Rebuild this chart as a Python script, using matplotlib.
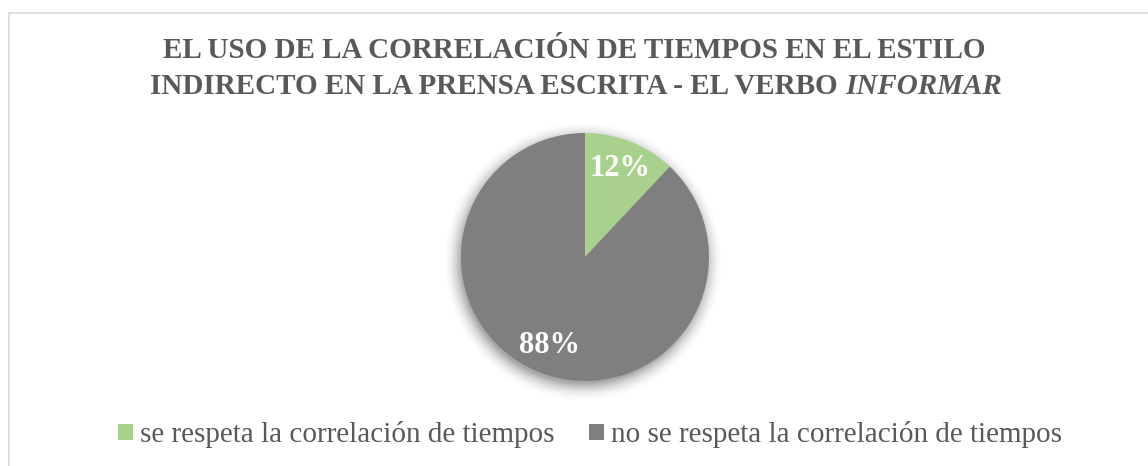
import matplotlib
matplotlib.use("Agg")
import numpy as np
import matplotlib.pyplot as plt
from matplotlib.patches import Patch, Rectangle

labels = ["se respeta la correlación de tiempos", "no se respeta la correlación de tiempos"]
values = [12, 88]
colors = ["#a9d18e", "#7f7f7f"]
title_1 = "EL USO DE LA CORRELACIÓN DE TIEMPOS EN EL ESTILO"
title_2a = "INDIRECTO EN LA PRENSA ESCRITA - EL VERBO "
title_2b = "INFORMAR"

plt.rcParams["font.family"] = ["Liberation Serif", "DejaVu Serif"]

W, H = 1148, 466
fig = plt.figure(figsize=(W / 100, H / 100), dpi=100)
fig.patches.append(Rectangle((9 / W, -0.1), 1.2, (H - 13) / H + 0.1, transform=fig.transFigure,
                             fill=False, edgecolor="#d9d9d9", linewidth=1.2))

# pie
cx, cy, r = 585, 257, 124
m = 1.3
ax = fig.add_axes([(cx - m * r) / W, (H - cy - m * r) / H, 2 * m * r / W, 2 * m * r / H])

# soft shadow behind the pie
g = np.linspace(-m, m, 300)
gx, gy = np.meshgrid(g, g)
d = np.hypot(gx + 0.02, gy + 0.04)
a = np.clip((1.14 - d) / 0.16, 0, 1) ** 2 * 0.35
shade = np.zeros((300, 300, 4))
shade[..., 3] = a
ax.imshow(shade, extent=(-m, m, -m, m), origin="lower", zorder=0)

wedges, texts, autotexts = ax.pie(values, colors=colors, startangle=90, counterclock=False,
                                  autopct="%1.0f%%", pctdistance=0.77,
                                  textprops=dict(color="white", fontsize=22, fontweight="bold"))
for w in wedges:
    w.set_zorder(2)
for t in autotexts:
    t.set_zorder(3)
ax.set_xlim(-m, m)
ax.set_ylim(-m, m)
ax.axis("off")

# title
tc = "#595959"
fs = 21
fig.text(0.5, 1 - 51 / H, title_1, ha="center", va="center", fontsize=fs, fontweight="bold", color=tc)
t2a = fig.text(0, 1 - 87 / H, title_2a, ha="left", va="center", fontsize=fs, fontweight="bold", color=tc)
t2b = fig.text(0, 1 - 87 / H, title_2b, ha="left", va="center", fontsize=fs, fontweight="bold",
               style="italic", color=tc)
fig.canvas.draw()
rend = fig.canvas.get_renderer()
wa = t2a.get_window_extent(rend).width
wb = t2b.get_window_extent(rend).width
x0 = (W - wa - wb) / 2 / W
t2a.set_x(x0 + 0.002)
t2b.set_x(x0 + 0.002 + wa / W)

handles = [Patch(facecolor=c, edgecolor="none") for c in colors]
fig.legend(handles, labels, loc="center", bbox_to_anchor=(0.514, 1 - 435 / H), ncol=2, frameon=False,
           fontsize=21, labelcolor="#595959", handlelength=0.5, handleheight=0.5,
           handletextpad=0.25, columnspacing=1.2)

fig.savefig("out.png", dpi=100)
